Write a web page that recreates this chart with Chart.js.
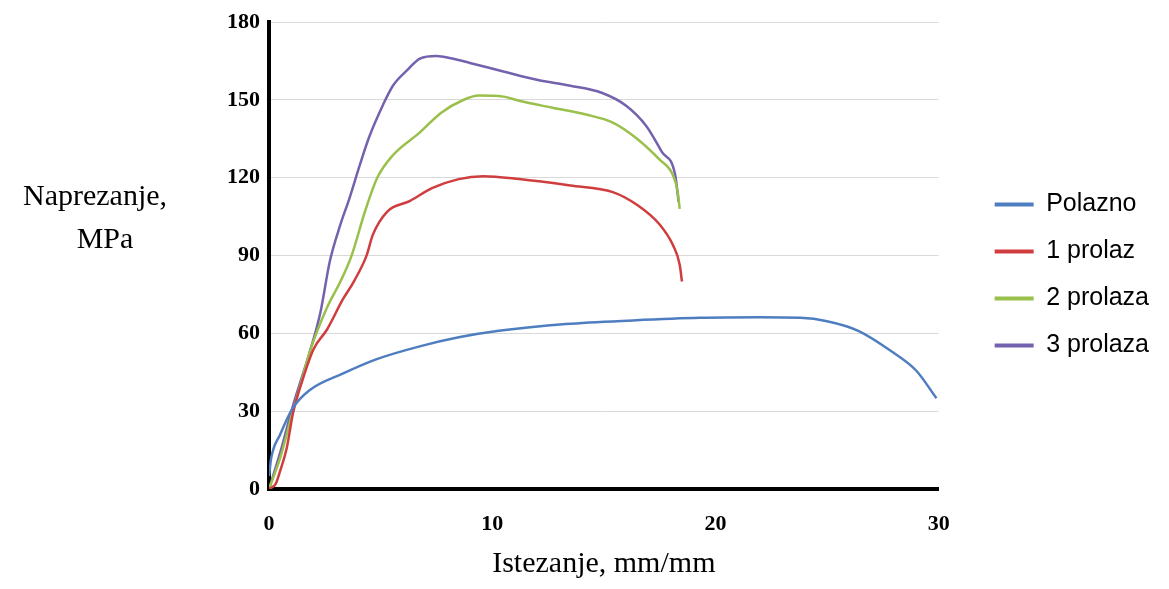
<!DOCTYPE html>
<html>
<head>
<meta charset="utf-8">
<script src="https://cdn.jsdelivr.net/npm/chart.js@4"></script>
<style>
  html, body { margin: 0; padding: 0; background: #fff; }
  #wrap { position: relative; width: 1169px; height: 589px; }
</style>
</head>
<body>
<div id="wrap"><canvas id="chart"></canvas></div>
<script>
// ── data ──
const seriesNames = ['Polazno', '1 prolaz', '2 prolaza', '3 prolaza']
const seriesColors = ['#4f7ec0', '#cf3d3f', '#98c04a', '#7562ae']

const polaznoX = [0, 0.1, 0.5, 1.05, 1.8, 3.3, 4.8, 6.75, 8.5, 10.3, 13.3, 16.3, 19.3, 22, 23.8, 25.0, 26.4, 27.9, 29.0, 29.9]
const polaznoY = [5, 12, 21, 31, 38, 44.5, 50, 55, 58.5, 61, 63.6, 65, 66, 66.2, 66, 64.7, 61, 53, 45.6, 35]

const prolaz1X = [0, 0.3, 0.5, 0.8, 1.07, 1.5, 2.0, 2.6, 3.3, 3.8, 4.37, 4.65, 5.3, 6.3, 7.3, 8.5, 9.6, 11.2, 13.5, 15.4, 16.5, 17.5, 18.1, 18.4, 18.5]
const prolaz1Y = [0, 2, 7, 16, 29, 42, 54, 61.5, 73, 80, 90, 98, 107, 111, 116, 119.5, 120.6, 119.5, 117, 114.5, 109.5, 102, 94, 86.5, 80]

const prolaz2X = [0, 0.5, 1.07, 1.5, 1.83, 2.6, 3.2, 3.7, 4.3, 4.85, 5.55, 6.76, 7.7, 8.7, 9.4, 10.5, 11.2, 12.7, 14.2, 15.4, 16.5, 17.5, 18.1, 18.3, 18.4]
const prolaz2Y = [0, 12, 30, 43, 53, 70, 80, 90, 107, 120, 128.7, 137.5, 145, 150, 151.7, 151.3, 149.7, 147, 144.4, 141.3, 135, 127, 121, 115, 108]

const prolaz3X = [0, 0.5, 1.07, 1.83, 2.3, 2.73, 3.2, 3.6, 4.07, 4.5, 5.1, 5.55, 6.2, 6.76, 7.5, 8.2, 9.0, 10.5, 12.0, 13.5, 14.9, 16.0, 16.9, 17.6, 18.2, 18.35]
const prolaz3Y = [0, 14, 32, 53, 68, 88, 102, 112, 125, 136, 148, 155.5, 161.6, 166, 167, 166, 164.3, 161, 157.8, 155.5, 152.8, 147.8, 140, 130, 121, 110.7]

const xTicks = [0, 10, 20, 30]
const yTicks = [0, 30, 60, 90, 120, 150, 180]

const xTitle = 'Istezanje, mm/mm'
const yTitleLines = ['Naprezanje,', 'MPa']

const toPoints = (xs, ys) => xs.map((x, i) => ({ x, y: ys[i] }))
const seriesData = [
  toPoints(polaznoX, polaznoY),
  toPoints(prolaz1X, prolaz1Y),
  toPoints(prolaz2X, prolaz2Y),
  toPoints(prolaz3X, prolaz3Y),
]

const serif = '"Liberation Serif", "Times New Roman", serif'
const sans  = '"Liberation Sans", Arial, sans-serif'

// horizontal y title, drawn left of the axis
const yTitlePlugin = {
  id: 'yTitle',
  afterDraw(chart) {
    const { ctx } = chart
    ctx.save()
    ctx.font = `30px ${serif}`
    ctx.fillStyle = '#000'
    ctx.textAlign = 'center'
    ctx.textBaseline = 'alphabetic'
    ctx.fillText(yTitleLines[0], 95, 205)
    ctx.fillText(yTitleLines[1], 105, 248)
    ctx.restore()
  }
}

// push the legend box a bit right and up from where the layout puts it
const legendNudge = {
  id: 'legendNudge',
  afterLayout(chart) {
    const l = chart.legend
    if (!l) return
    const dx = 34, dy = -29
    l.left += dx; l.right += dx
    l.top += dy; l.bottom += dy
  }
}

new Chart(document.getElementById('chart'), {
  type: 'line',
  data: {
    datasets: seriesNames.map((name, i) => ({
      label: name,
      data: seriesData[i],
      borderColor: seriesColors[i],
      backgroundColor: seriesColors[i],
      borderWidth: 2.5,
      pointRadius: 0,
      fill: false,
      cubicInterpolationMode: 'monotone',
    }))
  },
  options: {
    responsive: true, maintainAspectRatio: false, animation: false,
    layout: { padding: { top: 19, right: 44, left: 0, bottom: 0 } },
    plugins: {
      tooltip: { enabled: false },
      legend: {
        position: 'right', align: 'center',
        labels: {
          color: '#000',
          font: { family: sans, size: 25 },
          usePointStyle: true, pointStyle: 'line', pointStyleWidth: 39,
          padding: 22,
          generateLabels: chart => Chart.defaults.plugins.legend.labels.generateLabels(chart)
            .map(item => ({ ...item, lineWidth: 4 })),
        }
      }
    },
    scales: {
      x: {
        type: 'linear', min: 0, max: 30,
        afterBuildTicks: s => { s.ticks = xTicks.map(v => ({ value: v })) },
        afterFit: s => { s.height = 100 },
        grid: { display: false, drawTicks: false },
        border: { display: true, color: '#000', width: 4 },
        ticks: { color: '#000', padding: 22, font: { family: serif, size: 22, weight: 'bold' } },
        title: { display: true, text: xTitle, color: '#000', font: { family: serif, size: 30 }, padding: { top: 0, bottom: 7 } },
      },
      y: {
        min: 0, max: 180,
        afterBuildTicks: s => { s.ticks = yTicks.map(v => ({ value: v })) },
        afterFit: s => { s.width = 269 },
        grid: { color: '#d9d9d9', lineWidth: 1, drawTicks: false },
        border: { display: true, color: '#000', width: 4 },
        ticks: { color: '#000', padding: 9, font: { family: serif, size: 22, weight: 'bold' } },
      }
    }
  },
  plugins: [yTitlePlugin, legendNudge]
})
</script>
</body>
</html>
